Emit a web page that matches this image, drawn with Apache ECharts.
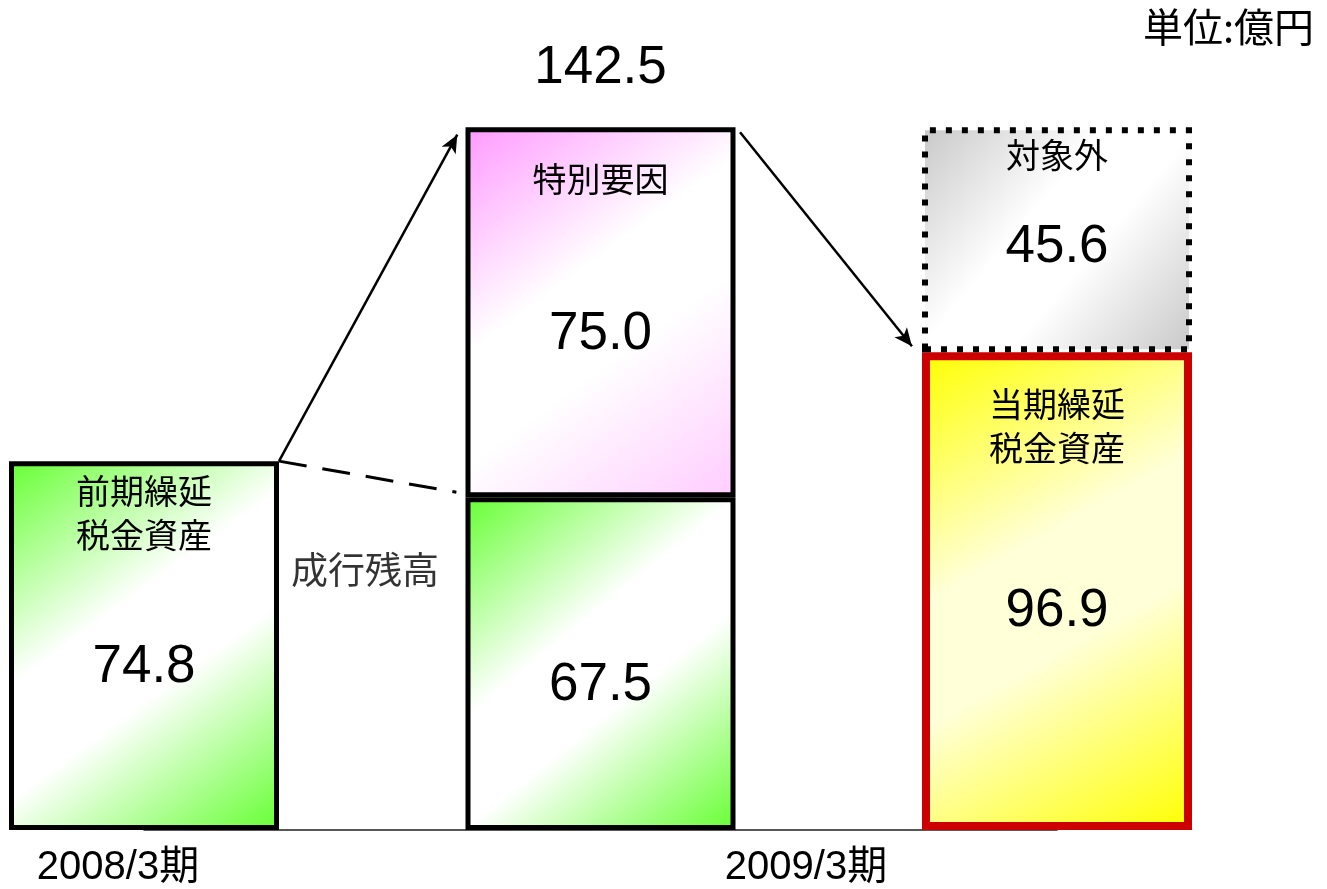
<!DOCTYPE html>
<html><head><meta charset="utf-8">
<script src="https://cdn.jsdelivr.net/npm/echarts@6/dist/echarts.min.js"></script>
<style>html,body{margin:0;padding:0;background:#fff}#c{width:1327px;height:889px}</style>
</head><body><div id="c"></div>
<script>
// ---- data ----
const categories = ['2008/3期', '', '2009/3期'];
const prevDTA   = [74.8, 67.5, '-'];   // 前期繰延税金資産 / 成行残高 (green)
const special   = ['-', 75.0, '-'];    // 特別要因 (pink)
const currDTA   = ['-', '-', 96.9];    // 当期繰延税金資産 (yellow)
const excluded  = ['-', '-', 45.6];    // 対象外 (gray)
const prevNames    = ['前期繰延\n税金資産', '', ''];
const specialNames = ['', '特別要因', ''];
const currNames    = ['', '', '当期繰延\n税金資産'];
const exclNames    = ['', '', '対象外'];
const noteText = '成行残高';
const unitText = '単位:億円';

// ---- layout constants ----
const GRID_L = 144, GRID_W = 913, BAR_W = 270;
const hw = (BAR_W / 2) / (GRID_W / 2);   // bar half width in hidden value-axis units
const num = v => (typeof v === 'number' ? v : 0);
const totals = categories.map((_, i) => num(prevDTA[i]) + num(special[i]) + num(currDTA[i]) + num(excluded[i]));

const NUM_FONT = '"Liberation Sans", Arial, "Noto Sans CJK JP", sans-serif';
const JP_FONT = '"Noto Sans CJK JP", sans-serif';

function diag(c0, cm, c1) {
  return { type: 'linear', x: 0, y: 0, x2: 1, y2: 1,
    colorStops: [{ offset: 0, color: c0 }, { offset: 0.4, color: cm }, { offset: 0.6, color: cm }, { offset: 1, color: c1 }] };
}
const valueLabel = (dy) => ({
  show: true, position: 'inside', offset: [0, dy], color: '#000',
  fontSize: 53, fontFamily: NUM_FONT,
  formatter: p => Number(p.value).toFixed(1)
});
const common = { type: 'bar', barWidth: BAR_W, barGap: '-100%', clip: false, xAxisIndex: 0, yAxisIndex: 0 };

function nameSeries(values, names, dist) {
  return Object.assign({}, common, {
    stack: 'names', data: values, silent: true, z: 5,
    itemStyle: { color: 'rgba(0,0,0,0)', borderWidth: 0 },
    label: { show: true, position: 'insideTop', distance: dist, color: '#000',
      fontSize: 34, lineHeight: 44, fontFamily: JP_FONT,
      formatter: p => names[p.dataIndex] }
  });
}

const option = {
  animation: false,
  backgroundColor: '#fff',
  title: { text: unitText, right: 8, top: 2,
    textStyle: { fontSize: 40, fontWeight: 'normal', color: '#000', fontFamily: JP_FONT } },
  grid: { left: GRID_L, width: GRID_W, top: 41, bottom: 59 },
  xAxis: [
    { type: 'category', data: categories, boundaryGap: false,
      axisLine: { show: true, lineStyle: { color: '#222', width: 1.5 } },
      axisTick: { show: false }, splitLine: { show: false },
      axisLabel: { interval: 0, margin: 18, color: '#000', fontSize: 40, fontFamily: NUM_FONT,
        formatter: (v, i) => v ? (i === 0 ? '{a|' + v + '}' : '{b|' + v + '}') : '',
        rich: {
          a: { fontSize: 40, fontFamily: NUM_FONT, color: '#000', padding: [0, 52, 0, 0] },
          b: { fontSize: 40, fontFamily: NUM_FONT, color: '#000', padding: [0, 502, 0, 0] }
        } } },
    { type: 'value', min: 0, max: 2, show: false }
  ],
  yAxis: { type: 'value', min: 0, max: 160, show: false },
  series: [
    Object.assign({}, common, {
      name: 'green', stack: 'v', data: prevDTA,
      itemStyle: { color: diag('#66ff33', '#ffffff', '#66ff33'), borderColor: '#000', borderWidth: 5 },
      label: valueLabel(22)
    }),
    Object.assign({}, common, {
      name: 'pink', stack: 'v', data: special,
      itemStyle: { color: diag('#ff99ff', '#ffffff', '#ffccff'), borderColor: '#000', borderWidth: 5 },
      label: valueLabel(22),
      markPoint: {
        symbol: 'circle', symbolSize: 1, itemStyle: { color: 'rgba(0,0,0,0)' },
        label: { show: true, position: 'top', distance: 32, color: '#000', fontSize: 53, fontFamily: NUM_FONT,
          formatter: p => Number(p.value).toFixed(1) },
        data: [{ coord: [1, totals[1]], value: totals[1] }]
      }
    }),
    Object.assign({}, common, {
      name: 'yellow', stack: 'v', data: currDTA,
      itemStyle: { color: diag('#ffff00', '#ffffd8', '#ffff00'), borderColor: '#cc0000', borderWidth: 8 },
      label: valueLabel(20)
    }),
    Object.assign({}, common, {
      name: 'gray', stack: 'v', data: excluded,
      itemStyle: { color: diag('#c8c8c8', '#ffffff', '#c8c8c8'), borderColor: '#000', borderWidth: 6, borderType: [6, 10] },
      label: valueLabel(8)
    }),
    nameSeries(prevDTA, prevNames, 8),
    nameSeries(special, specialNames, 30),
    nameSeries(currDTA, currNames, 30),
    nameSeries(excluded, exclNames, 6),
    {
      type: 'scatter', xAxisIndex: 1, yAxisIndex: 0, clip: false, silent: true,
      symbolSize: 1, itemStyle: { color: 'rgba(0,0,0,0)' },
      data: [{ value: [0.484, 52.7], name: noteText }],
      label: { show: true, position: 'inside', color: '#000', fontSize: 37, fontFamily: JP_FONT,
        formatter: p => p.name },
      markLine: {
        silent: true, animation: false, symbolSize: [12, 18],
        label: { show: false },
        data: [
          [ { coord: [hw, num(prevDTA[0])], symbol: 'none', lineStyle: { color: '#000', width: 2.5, type: 'solid' } },
            { coord: [1 - hw - 0.018, totals[1] - 1.5], symbol: 'arrow' } ],
          [ { coord: [hw, num(prevDTA[0])], symbol: 'none', lineStyle: { color: '#000', width: 3, type: [28, 16] } },
            { coord: [1 - hw - 0.02, num(prevDTA[1]) + 1], symbol: 'none' } ],
          [ { coord: [1 + hw + 0.01, totals[1] - 1], symbol: 'none', lineStyle: { color: '#000', width: 2.5, type: 'solid' } },
            { coord: [2 - hw - 0.022, num(currDTA[2]) + 1.2], symbol: 'arrow' } ]
        ]
      }
    }
  ]
};
echarts.init(document.getElementById('c')).setOption(option);
</script>
</body></html>
